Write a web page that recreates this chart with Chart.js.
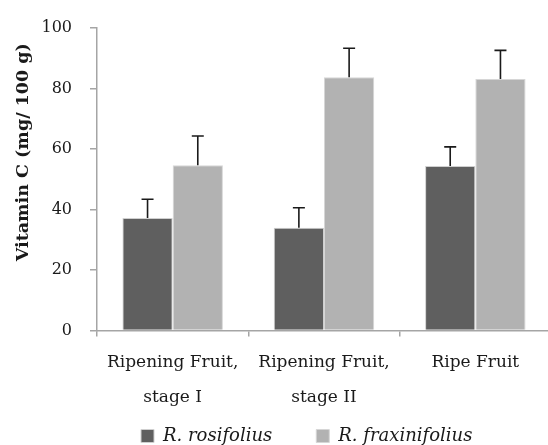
<!DOCTYPE html>
<html>
<head>
<meta charset="utf-8">
<script src="https://cdn.jsdelivr.net/npm/chart.js@4/dist/chart.umd.min.js"></script>
<style>
  html, body { margin: 0; padding: 0; background: #ffffff; overflow: hidden; }
  #wrap { width: 551px; height: 445px; position: relative; }
</style>
</head>
<body>
<div id="wrap"><canvas id="c"></canvas></div>
<script>
const categories = [["Ripening Fruit,", "stage I"], ["Ripening Fruit,", "stage II"], "Ripe Fruit"];
const seriesNames = ["R. rosifolius", "R. fraxinifolius"];
const rosifolius = [37.2, 34.0, 54.4];
const rosifoliusErr = [6.2, 6.6, 6.3];
const fraxinifolius = [54.6, 83.7, 83.1];
const fraxinifoliusErr = [9.7, 9.6, 9.5];
const yTitle = "Vitamin C (mg/ 100 g)";

const FONT = "'DejaVu Serif', 'Liberation Serif', serif";
const AXIS = '#a5a5a5';
const TEXT = '#1a1a1a';

const errorBars = {
  id: 'errorBars',
  afterDatasetsDraw(chart) {
    const ctx = chart.ctx;
    const y = chart.scales.y;
    chart.data.datasets.forEach((ds, i) => {
      const meta = chart.getDatasetMeta(i);
      if (!ds.errors) return;
      meta.data.forEach((bar, j) => {
        const top = y.getPixelForValue(ds.data[j] + ds.errors[j]);
        ctx.save();
        ctx.strokeStyle = '#1a1a1a';
        ctx.lineWidth = 1.6;
        ctx.beginPath();
        ctx.moveTo(bar.x, bar.y);
        ctx.lineTo(bar.x, top);
        ctx.moveTo(bar.x - 6, top);
        ctx.lineTo(bar.x + 6, top);
        ctx.stroke();
        ctx.restore();
      });
    });
  }
};

const axisTweaks = {
  id: 'axisTweaks',
  beforeDraw(chart) {
    const s = chart.scales.y;
    if (s && !s._titlePatched) {
      const orig = s.drawTitle;
      s.drawTitle = function () {
        const t = this.top, b = this.bottom;
        this.top = t - 27; this.bottom = b - 27;
        orig.call(this);
        this.top = t; this.bottom = b;
      };
      s._titlePatched = true;
    }
    const x = chart.scales.x;
    if (x && !x._clipPatched) {
      x._computeLabelArea = function () { return undefined; };
      x._clipPatched = true;
    }
  }
};

new Chart(document.getElementById('c'), {
  type: 'bar',
  data: {
    labels: categories,
    datasets: [
      { label: seriesNames[0], data: rosifolius, errors: rosifoliusErr,
        backgroundColor: '#5f5f5f', borderColor: '#cfcfcf', borderWidth: 1 },
      { label: seriesNames[1], data: fraxinifolius, errors: fraxinifoliusErr,
        backgroundColor: '#b2b2b2', borderColor: '#d6d6d6', borderWidth: 1 }
    ]
  },
  options: {
    responsive: true,
    maintainAspectRatio: false,
    animation: false,
    layout: { padding: { top: 28, left: 0, right: 0, bottom: 0 } },
    datasets: { bar: { categoryPercentage: 0.664, barPercentage: 1.0 } },
    plugins: {
      tooltip: { enabled: false },
      legend: {
        position: 'bottom',
        align: 'start',
        fullSize: false,
        maxHeight: 62,
        labels: {
          boxWidth: 13, boxHeight: 13, padding: 44,
          color: TEXT,
          font: { family: FONT, size: 18, style: 'italic' }
        }
      }
    },
    scales: {
      x: {
        grid: { display: true, drawOnChartArea: false, drawTicks: true, tickLength: 6, color: AXIS, lineWidth: 1.5, offset: true },
        border: { display: true, color: AXIS, width: 1.5 },
        ticks: { color: TEXT, padding: 9, autoSkip: false, maxRotation: 0,
          font: { family: FONT, size: 17, lineHeight: 2.06 } },
        afterFit(scale) { scale.height = 52.5; }
      },
      y: {
        min: 0, max: 100,
        grid: { display: true, drawOnChartArea: false, drawTicks: true, tickLength: 7, color: AXIS, lineWidth: 1.5 },
        border: { display: true, color: AXIS, width: 1.5 },
        ticks: { stepSize: 20, color: TEXT, padding: 18,
          font: { family: FONT, size: 16 } },
        title: { display: true, text: yTitle, color: TEXT,
          padding: { top: 13, bottom: 0 },
          font: { family: FONT, size: 17.5, weight: 'bold' } },
        afterFit(scale) { scale.width = 97; }
      }
    }
  },
  plugins: [errorBars, axisTweaks]
});
</script>
</body>
</html>
